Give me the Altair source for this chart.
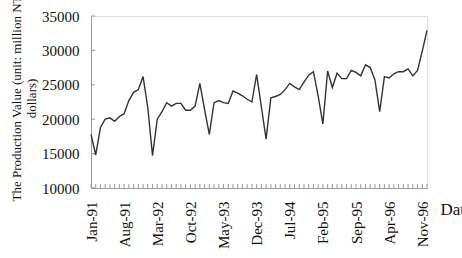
import altair as alt
import pandas as pd

month_names = ["Jan", "Feb", "Mar", "Apr", "May", "Jun",
               "Jul", "Aug", "Sep", "Oct", "Nov", "Dec"]
years = [91, 92, 93, 94, 95, 96]
months = [f"{m}-{y:02d}" for y in years for m in month_names]

production = [
    17800, 14800, 18800, 20000, 20200, 19700, 20400, 20800, 22700, 23900, 24300, 26200,
    21700, 14700, 20000, 21100, 22400, 21900, 22300, 22300, 21300, 21300, 21900, 25200,
    21400, 17800, 22400, 22700, 22400, 22300, 24100, 23800, 23400, 22900, 22500, 26500,
    21800, 17100, 23100, 23300, 23600, 24300, 25200, 24700, 24300, 25400, 26400, 26900,
    23400, 19300, 27000, 24600, 26700, 25900, 25900, 27100, 26800, 26300, 27900, 27500,
    25700, 21100, 26200, 26000, 26600, 26900, 26900, 27300, 26300, 27100, 29900, 32900,
]
label_months = months[::7]
y_ticks = [10000, 15000, 20000, 25000, 30000, 35000]

df = pd.DataFrame({"month": months, "value": production})
tick_df = pd.DataFrame({"value": y_ticks})

FONT = "Liberation Serif"
W, H = 336, 172

x_enc = alt.X(
    "month:N", sort=months,
    scale=alt.Scale(type="point", padding=0),
    axis=alt.Axis(
        values=label_months, labelAngle=270, labelFont=FONT, labelFontSize=15,
        labelColor="#111", labelPadding=13, ticks=False, labelOverlap=False,
        domainColor="#999", domainWidth=1, grid=False,
        title="Date", titleFont=FONT, titleFontSize=17, titleFontWeight="normal",
        titleColor="#111", titleAngle=0, titleAlign="left", titleBaseline="middle",
        titleX=349, titleY=21,
    ),
)
y_enc = alt.Y(
    "value:Q",
    scale=alt.Scale(domain=[10000, 35000], nice=False, zero=False),
    axis=alt.Axis(
        values=y_ticks, format="d", labelFont=FONT, labelFontSize=15,
        labelColor="#111", labelPadding=12, ticks=False, grid=False,
        domainColor="#999", domainWidth=1,
        title=["The Production Value (unit: million NT", "dollars)"],
        titleFont=FONT, titleFontSize=13, titleFontWeight="normal", titleColor="#111",
        titleAngle=270, titleAlign="center", titleBaseline="middle",
        titleLineHeight=15, titleX=-75, titleY=82,
    ),
)

line = alt.Chart(df).mark_line(color="#333333", strokeWidth=1.4).encode(x=x_enc, y=y_enc)

x_ticks = alt.Chart(df).mark_rule(color="#999", strokeWidth=1).encode(
    x=x_enc, y=alt.value(H - 4), y2=alt.value(H)
)
y_tick_marks = alt.Chart(tick_df).mark_rule(color="#999", strokeWidth=1).encode(
    y=y_enc, x=alt.value(0), x2=alt.value(4)
)

chart = alt.layer(x_ticks, y_tick_marks, line).properties(
    width=W, height=H,
    autosize=alt.AutoSizeParams(type="none"),
    padding={"left": 91, "top": 16, "right": 462 - 91 - W, "bottom": 258 - 16 - H},
).configure_view(stroke=None).configure(background="white")

chart.save("out.html", embed_options={"renderer": "svg", "actions": False})
